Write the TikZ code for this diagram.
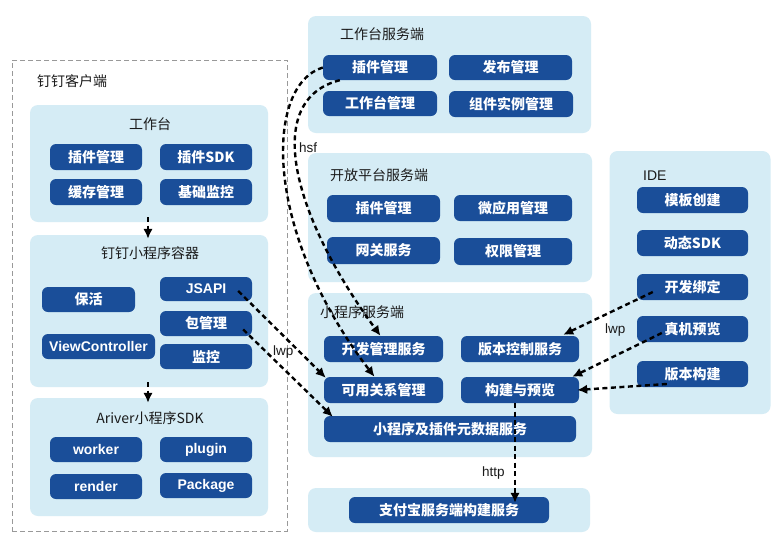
\documentclass[tikz,border=0pt]{standalone}
\usepackage{fontspec}
\setmainfont{Noto Sans CJK SC}
\newfontfamily\lat{Liberation Sans}
\usetikzlibrary{arrows.meta}
\definecolor{panel}{HTML}{D5ECF5}
\definecolor{btnblue}{HTML}{1A4E99}
\definecolor{ttl}{HTML}{1A1A1A}
\begin{document}
\begin{tikzpicture}[x=1pt,y=-1pt,
  pnl/.style={fill=panel, rounded corners=8pt, inner sep=0pt, draw=none},
  btn/.style={fill=btnblue, rounded corners=6pt, text=white, inner sep=0pt,
     font=\bfseries\fontsize{14}{16}\selectfont},
  ttlr/.style={text=ttl, inner sep=0pt, font=\fontsize{14}{16}\selectfont},
  lbl/.style={text=ttl, inner sep=0pt, font=\lat\fontsize{13.5}{16}\selectfont},
  conn/.style={draw=black, line width=2.4pt, dash pattern=on 5pt off 3.5pt,
     -{Latex[length=10pt,width=9.5pt]}}]
\useasboundingbox (0,0) rectangle (779,542);
\fill[white] (0,0) rectangle (779,542);

% outer dashed client box
\node[draw=black!40, line width=0.8pt, dash pattern=on 5pt off 3pt, inner sep=0pt,
  minimum width=275pt, minimum height=471pt] (outer) at (149.5,295.5) {};
\node[ttlr, anchor=west] (tclient) at (37,81) {钉钉客户端};

% client panels
\node[pnl, minimum width=238pt, minimum height=117pt] (P1) at (149,163.5) {};
\node[pnl, minimum width=238pt, minimum height=152pt] (P2) at (149,311) {};
\node[pnl, minimum width=238pt, minimum height=118pt] (P3) at (149,457) {};
\node[ttlr] (tP1) at (150,124) {工作台};
\node[ttlr] (tP2) at (150,253) {钉钉小程序容器};
\node[ttlr] (tP3) at (150,418) {Ariver小程序SDK};

\node[btn, minimum width=92pt, minimum height=26pt] (w1) at (96,157) {插件管理};
\node[btn, minimum width=92pt, minimum height=26pt] (w2) at (206,157) {插件SDK};
\node[btn, minimum width=92pt, minimum height=26pt] (w3) at (96,192) {缓存管理};
\node[btn, minimum width=92pt, minimum height=26pt] (w4) at (206,192) {基础监控};

\node[btn, minimum width=93pt, minimum height=25pt] (c1) at (88.5,299.5) {保活};
\node[btn, minimum width=92pt, minimum height=24pt, font=\lat\bfseries\fontsize{14}{16}\selectfont] (c2) at (206,289) {JSAPI};
\node[btn, minimum width=92pt, minimum height=25pt] (c3) at (206,323.5) {包管理};
\node[btn, minimum width=113pt, minimum height=25pt, font=\lat\bfseries\fontsize{14}{16}\selectfont] (c4) at (98.5,346.5) {ViewController};
\node[btn, minimum width=92pt, minimum height=25pt] (c5) at (206,356.5) {监控};

\node[btn, minimum width=92pt, minimum height=25pt, font=\lat\bfseries\fontsize{14}{16}\selectfont] (a1) at (96,449.5) {worker};
\node[btn, minimum width=92pt, minimum height=25pt, font=\lat\bfseries\fontsize{14}{16}\selectfont] (a2) at (206,449.5) {plugin};
\node[btn, minimum width=92pt, minimum height=25pt, font=\lat\bfseries\fontsize{14}{16}\selectfont] (a3) at (96,486.5) {render};
\node[btn, minimum width=92pt, minimum height=25pt, font=\lat\bfseries\fontsize{14}{16}\selectfont] (a4) at (206,485.5) {Package};

% server panels
\node[pnl, minimum width=283pt, minimum height=117pt] (Q1) at (449.5,74.5) {};
\node[pnl, minimum width=284pt, minimum height=129pt] (Q2) at (450,217.5) {};
\node[pnl, minimum width=284pt, minimum height=164pt] (Q3) at (450,375) {};
\node[pnl, minimum width=282pt, minimum height=44pt] (Q4) at (449,510) {};
\node[pnl, minimum width=161pt, minimum height=263pt] (IDE) at (690,282.5) {};

\node[ttlr, anchor=west] (tQ1) at (340,34) {工作台服务端};
\node[ttlr, anchor=west] (tQ2) at (330,175) {开放平台服务端};
\node[ttlr, anchor=west] (tQ3) at (320,312) {小程序服务端};
\node[ttlr, anchor=west, font=\lat\fontsize{14}{16}\selectfont] (tIDE) at (643,176) {IDE};

\node[btn, minimum width=114pt, minimum height=25pt] (s1) at (380,67.5) {插件管理};
\node[btn, minimum width=123pt, minimum height=25pt] (s2) at (510.5,67.5) {发布管理};
\node[btn, minimum width=114pt, minimum height=25pt] (s3) at (380,103.5) {工作台管理};
\node[btn, minimum width=124pt, minimum height=26pt] (s4) at (511,104) {组件实例管理};

\node[btn, minimum width=113pt, minimum height=27pt] (o1) at (383.5,208.5) {插件管理};
\node[btn, minimum width=118pt, minimum height=26pt] (o2) at (513,208) {微应用管理};
\node[btn, minimum width=113pt, minimum height=27pt] (o3) at (383.5,250.5) {网关服务};
\node[btn, minimum width=118pt, minimum height=27pt] (o4) at (513,251.5) {权限管理};

\node[btn, minimum width=119pt, minimum height=26pt] (m1) at (383.5,349) {开发管理服务};
\node[btn, minimum width=118pt, minimum height=26pt] (m2) at (520,349) {版本控制服务};
\node[btn, minimum width=119pt, minimum height=26pt] (m3) at (383.5,390) {可用关系管理};
\node[btn, minimum width=118pt, minimum height=26pt] (m4) at (520,390) {构建与预览};
\node[btn, minimum width=252pt, minimum height=26pt] (m5) at (450,429) {小程序及插件元数据服务};

\node[btn, minimum width=200pt, minimum height=26pt] (b1) at (449,510) {支付宝服务端构建服务};

\node[btn, minimum width=111pt, minimum height=26pt] (i1) at (692.5,200) {模板创建};
\node[btn, minimum width=111pt, minimum height=26pt] (i2) at (692.5,243) {动态SDK};
\node[btn, minimum width=111pt, minimum height=26pt] (i3) at (692.5,287) {开发绑定};
\node[btn, minimum width=111pt, minimum height=26pt] (i4) at (692.5,329) {真机预览};
\node[btn, minimum width=111pt, minimum height=26pt] (i5) at (692.5,374) {版本构建};

% labels
\node[lbl, anchor=west] (lhsf) at (299,148) {hsf};
\node[lbl, anchor=west] (llwp1) at (273,352) {lwp};
\node[lbl, anchor=west] (llwp2) at (605,330) {lwp};
\node[lbl, anchor=west] (lhttp) at (482,473) {http};

% connectors
\draw[conn] ([xshift=-1pt,yshift=5pt]P1.south) -- ([xshift=-1pt,yshift=-4pt]P2.north);
\draw[conn] ([xshift=-1pt,yshift=5pt]P2.south) -- ([xshift=-1pt,yshift=-5pt]P3.north);

\draw[conn] (s1.west) .. controls (265,85) and (262,230) .. ([xshift=-9pt]m3.north);
\draw[conn] ([xshift=17pt]s1.south west) .. controls (262,100) and (292,215) .. ([xshift=-3pt]m1.north);

\draw[conn] ([xshift=-14pt,yshift=-2pt]c2.east) -- ([xshift=2pt,yshift=-1pt]m3.north west);
\draw[conn] ([xshift=-9pt,yshift=-6pt]c3.east) -- ([xshift=9pt,yshift=-1pt]m5.north west);

\draw[conn] ([xshift=16pt,yshift=-5pt]i3.west) -- ([xshift=-16pt,yshift=1pt]m2.north east);
\draw[conn] ([xshift=25pt,yshift=-4pt]i4.west) -- ([xshift=-7pt,yshift=0pt]m4.north east);
\draw[conn] ([xshift=30pt,yshift=-10pt]i5.west) -- ([xshift=-2pt]m4.east);

\path ([xshift=-5pt]m4.south) coordinate (h1);
\path ([yshift=-6pt]b1.north) coordinate (h2);
\draw[conn] (h1) -- (h1 |- h2);
\end{tikzpicture}
\end{document}
